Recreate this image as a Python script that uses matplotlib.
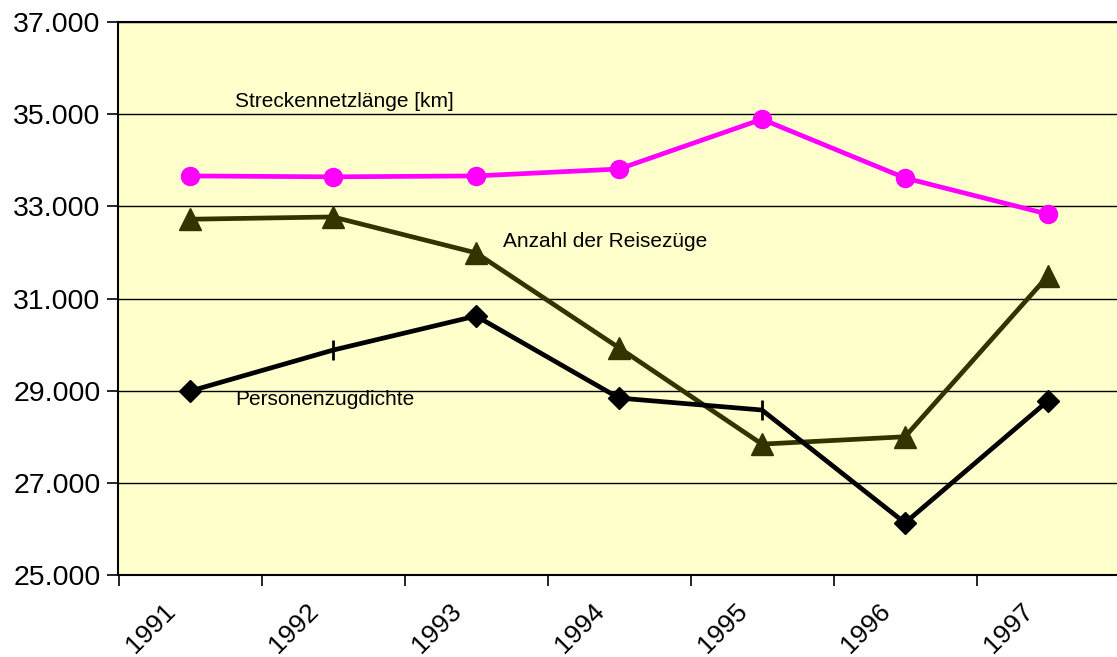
import matplotlib
matplotlib.use("Agg")
import matplotlib.pyplot as plt
import matplotlib.ticker as mticker
from matplotlib.transforms import ScaledTranslation

years = ["1991", "1992", "1993", "1994", "1995", "1996", "1997"]
strecken = [33660, 33640, 33660, 33810, 34890, 33615, 32830]
reisezuege = [32720, 32770, 31990, 29930, 27840, 28000, 31490]
personen = [28990, 29880, 30620, 28840, 28580, 26130, 28780]
y_ticks = [25000, 27000, 29000, 31000, 33000, 35000, 37000]

label_strecken = "Streckennetzlänge [km]"
label_reise = "Anzahl der Reisezüge"
label_personen = "Personenzugdichte"

plt.rcParams['font.family'] = ['Liberation Sans', 'DejaVu Sans']

fig = plt.figure(figsize=(11.17, 6.57), dpi=100)
ax = fig.add_axes([118.5 / 1117, 1 - 575 / 657, 1001 / 1117, (575 - 22) / 657])
ax.set_facecolor('#FFFFCC')

x = list(range(len(years)))

ax.plot(x, strecken, color='#FF00FF', lw=3.4, marker='o', ms=13, zorder=4)
ax.plot(x, reisezuege, color='#333300', lw=3.4, marker='^', ms=16, zorder=3)
ax.plot(x, personen, color='black', lw=3.4, marker='D', ms=11.5,
        markevery=[0, 2, 3, 5, 6], zorder=5)
ax.plot(x, personen, ls='none', color='black', marker='|', ms=15, mew=2,
        markevery=[1, 4], zorder=5)

ax.text(0.315, 35265, label_strecken, fontsize=15, va='center', ha='left')
ax.text(2.19, 32227, label_reise, fontsize=15, va='center', ha='left')
ax.text(0.315, 28798, label_personen, fontsize=15, va='center', ha='left')

ax.set_xlim(-0.5, len(years) - 0.5)
ax.set_ylim(25000, 37000)
ax.yaxis.set_major_locator(mticker.FixedLocator(y_ticks))
ax.yaxis.set_major_formatter(mticker.FuncFormatter(
    lambda v, p: f"{int(v):,}".replace(",", ".")))
ax.grid(axis='y', color='black', lw=1.0, zorder=1)
ax.set_axisbelow(True)

ax.set_xticks(x)
ax.set_xticklabels(years)
ax.set_xticks([i + 0.5 for i in range(-1, len(years))], minor=True)
ax.tick_params(axis='x', which='major', length=0, pad=17, labelsize=19)
ax.tick_params(axis='x', which='minor', length=8, width=1.2, direction='out')
ax.tick_params(axis='y', length=8, width=1.2, direction='out', pad=5,
               labelsize=20.5)
offset = ScaledTranslation(-10 / 100, 0, fig.dpi_scale_trans)
for lbl in ax.get_xticklabels():
    lbl.set_rotation(45)
    lbl.set_ha('right')
    lbl.set_va('top')
    lbl.set_transform(lbl.get_transform() + offset)

for s in ['left', 'bottom', 'top']:
    ax.spines[s].set_linewidth(1.5)
ax.spines['right'].set_visible(False)

fig.savefig('out.png', dpi=100)
